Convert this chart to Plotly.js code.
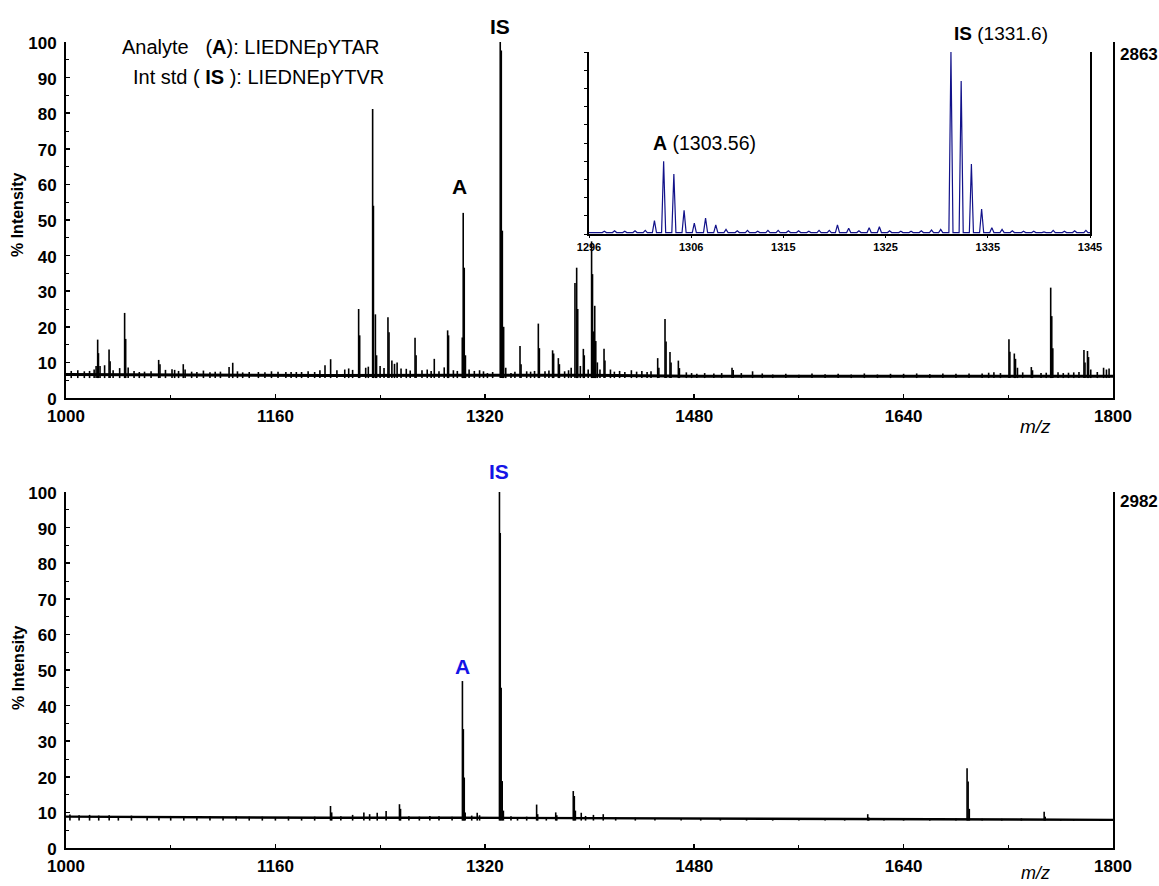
<!DOCTYPE html>
<html>
<head>
<meta charset="utf-8">
<script src="https://cdn.plot.ly/plotly-3.0.1.min.js"></script>
<style>
  html, body { margin: 0; padding: 0; background: #fff; }
  #chart { width: 1159px; height: 886px; }
</style>
</head>
<body>
<div id="chart"></div>
<script>
// ---------------- DATA ----------------
// Top spectrum (% intensity, base peak 2863 counts)
const topBaseMz  = [1000, 1100, 1200, 1300, 1400, 1480, 1600, 1700, 1800];
const topBaseInt = [6.6, 6.4, 6.3, 6.4, 6.4, 6.1, 6.0, 6.1, 6.1];
const topPeakMz = [
  1004.0, 1009.0, 1014.0, 1018.0,
  1021.5, 1023.0, 1024.2, 1024.8, 1026.0, 1029.5, 1032.9, 1033.7, 1036.0, 1041.0,
  1044.8, 1045.6, 1047.5, 1052.0, 1056.0, 1060.0, 1065.0, 1070.8, 1071.8, 1076.0, 1081.0, 1083.0,
  1086.0, 1089.6, 1091.0, 1096.0, 1100.0, 1105.0, 1110.0, 1114.0, 1118.0, 1124.6, 1127.4, 1131.0,
  1135.0, 1140.0, 1147.0, 1152.0, 1157.0, 1162.0, 1168.0, 1172.0, 1176.0,
  1180.0, 1185.0, 1190.0, 1194.0, 1197.9, 1202.2, 1207.0, 1213.0, 1216.0, 1219.0, 1223.6, 1224.4, 1229.0,
  1231.0, 1234.3, 1234.9, 1236.4, 1237.3, 1240.0, 1243.0, 1246.0, 1246.8, 1249.0, 1251.0,
  1253.0, 1256.0, 1260.0, 1263.0, 1266.7, 1267.5, 1272.0, 1276.0, 1279.0, 1281.4, 1285.0, 1289.0,
  1291.6, 1292.3, 1296.0, 1299.0, 1302.8, 1303.5, 1304.3, 1305.2, 1308.0, 1312.0, 1316.0, 1319.0,
  1322.0, 1326.0, 1331.8, 1332.6, 1333.4, 1334.4, 1336.0, 1340.0, 1343.0, 1346.9, 1347.7, 1352.0,
  1355.0, 1358.0, 1360.9, 1361.7, 1366.0, 1369.0, 1371.8, 1372.6, 1376.2, 1377.0, 1381.0, 1384.0, 1386.0,
  1388.9, 1390.2, 1391.0, 1393.0, 1395.3, 1396.0, 1399.0, 1401.6, 1402.3, 1403.2, 1404.0,
  1404.8, 1406.0, 1408.0, 1411.1, 1411.8, 1416.0, 1419.0, 1423.0, 1427.0, 1432.0, 1436.0, 1440.0, 1444.0, 1447.0, 1452.1,
  1453.0, 1457.7, 1458.5, 1461.5, 1462.3, 1467.9, 1468.7, 1474.0, 1478.0, 1482.0, 1488.0, 1495.0, 1501.0,
  1508.9, 1509.8, 1516.0, 1524.6, 1532.0, 1540.0, 1550.0, 1560.0, 1570.0, 1580.0, 1590.0, 1600.0, 1610.0,
  1620.0, 1630.0, 1640.0, 1650.0, 1660.0, 1670.0, 1680.0, 1690.0, 1700.0, 1705.0,
  1709.0, 1714.0, 1720.5, 1721.2, 1724.6, 1725.5, 1727.0, 1731.0, 1737.6, 1738.5,
  1745.0, 1749.0, 1752.4, 1753.2, 1754.0, 1758.0, 1762.0, 1766.0, 1770.0, 1774.0, 1777.8, 1778.6, 1780.5, 1781.3,
  1783.0, 1788.0, 1792.8, 1795.0, 1797.0
];
const topPeakInt = [
  7.6, 7.8, 7.5, 7.6,
  8.0, 9.0, 16.4, 12.6, 9.0, 9.2, 13.6, 10.3, 7.8, 8.4,
  23.9, 16.6, 8.6, 7.6, 7.3, 7.4, 7.5, 10.7, 9.5, 7.9, 8.1, 7.9,
  7.6, 9.5, 8.0, 7.4, 7.3, 7.7, 7.2, 7.4, 7.4, 8.7, 9.9, 7.5,
  7.2, 7.3, 7.3, 7.2, 7.5, 7.4, 7.3, 7.3, 7.3,
  7.3, 7.5, 7.3, 7.8, 9.2, 10.9, 7.8, 8.0, 8.3, 7.9, 25.0, 17.6, 8.5,
  8.8, 81.2, 54.0, 23.5, 12.0, 9.0, 8.4, 22.7, 18.5, 10.5, 9.6,
  10.0, 8.3, 8.2, 7.7, 16.9, 12.0, 7.8, 8.0, 7.6, 11.0, 7.5, 8.6,
  19.0, 17.6, 7.8, 7.6, 17.0, 52.0, 36.6, 12.0, 8.0, 7.6, 7.8, 7.5,
  7.0, 7.3, 100.0, 97.6, 47.0, 20.0, 8.5, 7.0, 7.4, 14.6, 9.5, 7.5,
  7.4, 7.6, 20.9, 14.0, 7.5, 7.7, 13.4, 12.5, 11.2, 9.5, 7.5, 7.8, 8.5,
  32.3, 36.6, 25.0, 9.0, 13.8, 12.0, 8.0, 44.0, 34.8, 18.7, 25.9,
  16.0, 10.0, 8.0, 13.8, 10.5, 8.0, 7.4, 7.6, 7.3, 7.8, 7.4, 7.6, 7.3, 7.5, 11.2,
  8.5, 22.2, 15.9, 12.9, 10.0, 10.5, 8.4, 7.2, 7.0, 6.8, 7.0, 6.9, 7.0,
  8.5, 7.9, 7.0, 7.5, 6.9, 6.6, 6.8, 6.5, 6.9, 6.7, 6.8, 6.6, 6.9,
  6.6, 6.8, 6.8, 6.9, 6.7, 6.9, 6.8, 6.9, 6.9, 7.1,
  7.2, 7.0, 16.5, 13.0, 12.5, 11.0, 8.5, 7.2, 8.7, 7.8,
  7.0, 7.1, 31.0, 23.0, 14.0, 7.2, 7.0, 7.1, 7.2, 7.3, 13.5, 10.0, 13.2, 11.5,
  8.0, 7.3, 8.5, 8.0, 8.3
];

// Bottom spectrum (% intensity, base peak 2982 counts)
const botBaseMz  = [1000, 1100, 1200, 1300, 1400, 1500, 1600, 1700, 1800];
const botBaseInt = [8.8, 8.6, 8.5, 8.5, 8.4, 8.2, 8.1, 8.0, 7.9];
const botPeakMz = [
  1003.0, 1010.0, 1018.0, 1025.0, 1033.0, 1040.0, 1050.0, 1062.0, 1071.0, 1080.0, 1090.0, 1100.0,
  1110.0, 1120.0, 1130.0, 1140.0, 1150.0, 1160.0, 1170.0,
  1180.0, 1190.0, 1202.1, 1203.0, 1210.0, 1219.0, 1227.6, 1232.0, 1237.8, 1244.6, 1254.8,
  1255.6, 1262.0, 1270.0, 1278.0, 1285.0, 1295.0, 1302.9, 1303.6, 1304.3, 1305.0, 1310.0,
  1314.2, 1316.0, 1331.2, 1331.8, 1332.5, 1333.3, 1334.2, 1340.0, 1345.0, 1352.0, 1359.6,
  1360.4, 1367.0, 1374.2, 1375.0, 1387.6, 1388.4, 1389.2, 1393.7, 1397.0, 1403.0,
  1410.5, 1420.0, 1435.0, 1450.0, 1470.0, 1485.0, 1500.0, 1520.0, 1540.0, 1560.0, 1580.0, 1595.0, 1612.6, 1613.4, 1625.0, 1640.0,
  1660.0, 1680.0, 1688.5, 1689.3, 1690.2, 1700.0, 1715.0, 1730.0, 1747.4, 1748.2, 1760.0, 1770.0,
  1790.0
];
const botPeakInt = [
  9.4, 9.2, 9.3, 9.1, 9.2, 8.9, 9.1, 8.9, 9.0, 9.0, 8.9, 8.8,
  8.9, 8.8, 8.9, 8.8, 8.8, 8.7, 8.8,
  8.7, 8.8, 11.8, 10.0, 8.9, 9.3, 10.0, 9.5, 9.9, 10.4, 12.3,
  11.0, 8.9, 8.8, 9.0, 8.9, 8.8, 46.9, 33.4, 19.8, 10.0, 9.1,
  9.9, 9.2, 100.0, 88.5, 45.0, 18.8, 10.5, 8.9, 8.7, 8.8, 12.2,
  9.5, 8.7, 10.0, 9.2, 16.0, 14.6, 10.5, 9.9, 9.0, 9.3,
  9.5, 8.6, 8.5, 8.4, 8.3, 8.4, 8.3, 8.4, 8.3, 8.2, 8.4, 8.3, 9.5, 8.6, 8.3, 8.2,
  8.3, 8.3, 22.4, 18.7, 11.0, 8.2, 8.2, 8.3, 10.2, 8.8, 8.1, 8.0,
  8.0
];

// Inset: zoom of top spectrum, m/z 1296-1345
const insetBase = 0.8;
const insetMz = [
  1297.5, 1298.5, 1299.5, 1300.5, 1301.5, 1302.4, 1303.3, 1304.3, 1305.3, 1306.3,
  1307.4, 1308.4, 1309.4, 1310.5, 1311.5, 1312.5, 1313.5, 1314.5, 1315.5, 1316.5,
  1317.5, 1318.5, 1319.5, 1320.3, 1321.4, 1322.4, 1323.4, 1324.4, 1325.4, 1326.5,
  1327.5, 1328.5, 1329.5, 1330.4, 1331.4, 1332.4, 1333.4, 1334.4, 1335.4, 1336.4,
  1337.4, 1338.5, 1339.5, 1340.5, 1341.4, 1342.5, 1343.5, 1344.6
];
const insetInt = [
  1.5, 1.8, 1.5, 1.8, 2.0, 7.4, 40.0, 33.0, 13.0, 6.0,
  8.7, 5.0, 2.5, 1.8, 2.0, 1.5, 2.0, 2.0, 1.8, 1.8,
  1.5, 2.0, 2.0, 5.0, 3.2, 1.8, 3.5, 4.0, 1.8, 1.5,
  1.5, 1.8, 2.2, 2.5, 100.0, 84.0, 38.5, 13.7, 3.5, 2.5,
  1.8, 1.5, 1.5, 1.2, 2.0, 1.5, 1.8, 2.0
];

// Axis ticks / labels
const mainTicks  = [1000, 1160, 1320, 1480, 1640, 1800];
const yTicks     = [0, 10, 20, 30, 40, 50, 60, 70, 80, 90, 100];
const insetTicks = [1296, 1306, 1315, 1325, 1335, 1345];
const topMaxCounts = "2863";
const botMaxCounts = "2982";

// ---------------- BUILD TRACES ----------------
function sticks(mz, it, floor) {
  const x = [], y = [];
  for (let i = 0; i < mz.length; i++) {
    x.push(mz[i], mz[i], null);
    y.push(floor, it[i], null);
  }
  return {x, y};
}
function profile(mz, it, base, hw) {
  const pts = [];
  pts.push([1296, base]);
  for (let i = 0; i < mz.length; i++) {
    pts.push([mz[i] - hw, base], [mz[i], it[i]], [mz[i] + hw, base]);
  }
  pts.push([1345, base]);
  return {x: pts.map(p => p[0]), y: pts.map(p => p[1])};
}
function idxOf(arr, v) { return arr.indexOf(v); }

const FONT = "Liberation Sans, Arial, Helvetica, sans-serif";
const topSt = sticks(topPeakMz, topPeakInt, 5.6);
const botSt = sticks(botPeakMz, botPeakInt, 7.7);
const ins = profile(insetMz, insetInt, insetBase, 0.2);

const traces = [
  {x: topBaseMz, y: topBaseInt, xaxis: 'x', yaxis: 'y', mode: 'lines',
   line: {color: '#000', width: 3}, hoverinfo: 'skip'},
  {x: topSt.x, y: topSt.y, xaxis: 'x', yaxis: 'y', mode: 'lines',
   line: {color: '#000', width: 1.6}, hoverinfo: 'skip'},
  {x: botBaseMz, y: botBaseInt, xaxis: 'x2', yaxis: 'y2', mode: 'lines',
   line: {color: '#000', width: 2.4}, hoverinfo: 'skip'},
  {x: botSt.x, y: botSt.y, xaxis: 'x2', yaxis: 'y2', mode: 'lines',
   line: {color: '#000', width: 1.6}, hoverinfo: 'skip'},
  {x: ins.x, y: ins.y, xaxis: 'x3', yaxis: 'y3', mode: 'lines',
   line: {color: '#12128a', width: 1.2}, hoverinfo: 'skip'}
];

// ---------------- LAYOUT ----------------
const W = 1159, H = 886;
const mL = 66, mR = 46, mT = 42, mB = 38;
const plotW = W - mL - mR, plotH = H - mT - mB;
const px2x = p => (p - mL) / plotW;
const py2y = p => (H - mB - p) / plotH;

const tickFont = {family: FONT, size: 17, color: '#000', weight: 'bold'};
function xAxis(anchor) {
  return {
    anchor: anchor, range: [1000, 1800], tickvals: mainTicks,
    ticks: 'inside', ticklen: 4, tickwidth: 1.5, tickcolor: '#000',
    minor: {dtick: 80, tick0: 1000, ticks: 'inside', ticklen: 3, tickcolor: '#000', tickwidth: 1},
    showline: true, linecolor: '#000', linewidth: 2, showgrid: false, zeroline: false,
    tickfont: tickFont, ticklabelstandoff: 2, fixedrange: true
  };
}
function yAxis(anchor, dom) {
  return {
    anchor: anchor, domain: dom, range: [0, 100], tickvals: yTicks,
    ticks: 'inside', ticklen: 4, tickwidth: 1.5, tickcolor: '#000',
    minor: {dtick: 5, tick0: 0, ticks: 'inside', ticklen: 3, tickcolor: '#000', tickwidth: 1},
    showline: true, mirror: true, linecolor: '#000', linewidth: 2,
    showgrid: false, zeroline: false, tickfont: tickFont, ticklabelstandoff: 4,
    ticklabelshift: 1, fixedrange: true
  };
}

const topIS = idxOf(topPeakInt, 100.0);
const topA  = idxOf(topPeakInt, 52.0);
const botIS = idxOf(botPeakInt, 100.0);
const botA  = idxOf(botPeakInt, 46.9);
const insA  = idxOf(insetInt, 40.0);
const insIS = idxOf(insetInt, 100.0);

const layout = {
  width: W, height: H,
  margin: {l: mL, r: mR, t: mT, b: mB, pad: 0},
  paper_bgcolor: '#fff', plot_bgcolor: 'rgba(0,0,0,0)',
  showlegend: false,
  font: {family: FONT, color: '#000'},
  xaxis: xAxis('y'),
  yaxis: yAxis('x', [py2y(398), 1]),
  xaxis2: xAxis('y2'),
  yaxis2: yAxis('x2', [0, py2y(492)]),
  xaxis3: {
    anchor: 'y3', domain: [px2x(589), px2x(1090)], range: [1296, 1345],
    tickvals: insetTicks, ticks: 'outside', ticklen: 2, tickcolor: '#000',
    showline: true, linecolor: '#000', linewidth: 2, showgrid: false, zeroline: false,
    tickfont: {family: FONT, size: 11, color: '#000', weight: 'bold'}, fixedrange: true
  },
  yaxis3: {
    anchor: 'x3', domain: [py2y(234), py2y(52)], range: [0, 100],
    tickvals: yTicks, ticks: 'outside', ticklen: 3, tickcolor: '#000', showticklabels: false,
    showline: true, mirror: true, linecolor: '#000', linewidth: 2,
    showgrid: false, zeroline: false, fixedrange: true
  },
  annotations: [
    {xref: 'paper', yref: 'paper', x: px2x(382), y: py2y(47), xanchor: 'right', yanchor: 'middle',
     text: 'Analyte\u00a0\u00a0\u00a0(<b>A</b>):\u00a0LIEDNEpYTAR', showarrow: false,
     font: {family: FONT, size: 20, color: '#000'}},
    {xref: 'paper', yref: 'paper', x: px2x(386), y: py2y(77), xanchor: 'right', yanchor: 'middle',
     text: 'Int\u00a0std\u00a0(\u00a0<b>IS</b>\u00a0):\u00a0LIEDNEpYTVR', showarrow: false,
     font: {family: FONT, size: 20, color: '#000'}},
    {xref: 'x', yref: 'y', x: topPeakMz[topIS], y: topPeakInt[topIS], xanchor: 'center', yanchor: 'bottom',
     yshift: 2, text: '<b>IS</b>', showarrow: false, font: {family: FONT, size: 21, color: '#000'}},
    {xref: 'x', yref: 'y', x: topPeakMz[topA] - 3, y: topPeakInt[topA], xanchor: 'center', yanchor: 'bottom',
     yshift: 13, text: '<b>A</b>', showarrow: false, font: {family: FONT, size: 21, color: '#000'}},
    {xref: 'x2', yref: 'y2', x: botPeakMz[botIS], y: botPeakInt[botIS], xanchor: 'center', yanchor: 'bottom',
     yshift: 7, text: '<b>IS</b>', showarrow: false, font: {family: FONT, size: 21, color: '#1414e6'}},
    {xref: 'x2', yref: 'y2', x: botPeakMz[botA], y: botPeakInt[botA], xanchor: 'center', yanchor: 'bottom',
     yshift: 1, text: '<b>A</b>', showarrow: false, font: {family: FONT, size: 21, color: '#1414e6'}},
    {xref: 'x3', yref: 'y3', x: insetMz[insIS] + 0.1, y: insetInt[insIS], xanchor: 'left', yanchor: 'bottom', yshift: 6,
     text: '<b>IS</b>\u00a0(1331.6)', showarrow: false, font: {family: FONT, size: 19, color: '#000'}},
    {xref: 'x3', yref: 'y3', x: insetMz[insA] - 1.2, y: insetInt[insA], xanchor: 'left', yanchor: 'bottom', yshift: 5,
     text: '<b>A</b>\u00a0(1303.56)', showarrow: false, font: {family: FONT, size: 19.5, color: '#000'}},
    {xref: 'paper', yref: 'paper', x: px2x(1118), y: py2y(55), xanchor: 'left', yanchor: 'middle',
     text: '<b>' + topMaxCounts + '</b>', showarrow: false, font: {family: FONT, size: 17, color: '#000'}},
    {xref: 'paper', yref: 'paper', x: px2x(1118), y: py2y(501), xanchor: 'left', yanchor: 'middle',
     text: '<b>' + botMaxCounts + '</b>', showarrow: false, font: {family: FONT, size: 17, color: '#000'}},
    {xref: 'paper', yref: 'paper', x: px2x(1035), y: py2y(426), xanchor: 'center', yanchor: 'middle',
     text: '<i>m/z</i>', showarrow: false, font: {family: FONT, size: 19, color: '#000'}},
    {xref: 'paper', yref: 'paper', x: px2x(1035), y: py2y(873), xanchor: 'center', yanchor: 'middle',
     text: '<i>m/z</i>', showarrow: false, font: {family: FONT, size: 18, color: '#000'}},
    {xref: 'paper', yref: 'paper', x: px2x(18), y: py2y(215), xanchor: 'center', yanchor: 'middle',
     textangle: -90, text: '<b>% Intensity</b>', showarrow: false, font: {family: FONT, size: 16, color: '#000'}},
    {xref: 'paper', yref: 'paper', x: px2x(18), y: py2y(668), xanchor: 'center', yanchor: 'middle',
     textangle: -90, text: '<b>% Intensity</b>', showarrow: false, font: {family: FONT, size: 16, color: '#000'}}
  ]
};

Plotly.newPlot('chart', traces, layout, {staticPlot: true, displayModeBar: false});
</script>
</body>
</html>
